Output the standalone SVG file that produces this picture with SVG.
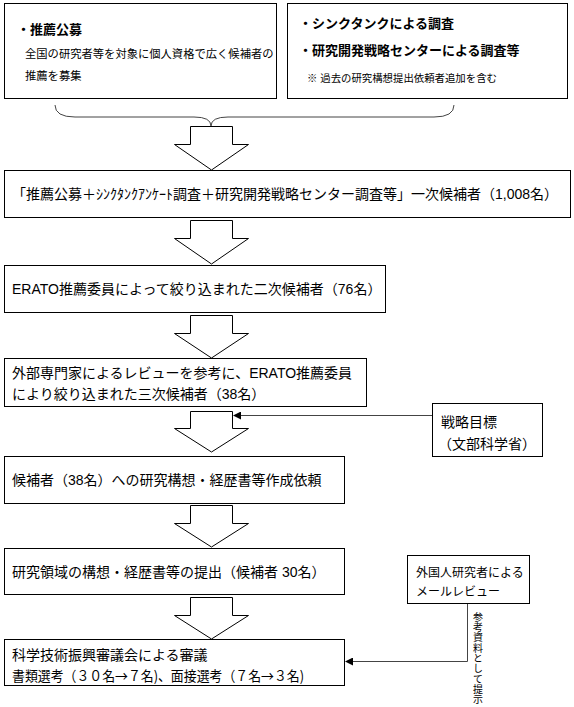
<svg xmlns="http://www.w3.org/2000/svg" width="574" height="707" viewBox="0 0 574 707">
<style>
.box{fill:#fff;stroke:#000;stroke-width:1}
.t{font-family:"Liberation Sans","Noto Sans CJK JP",sans-serif;font-size:14px;fill:#000}
.j{font-family:"Noto Sans CJK JP",sans-serif}
.s{font-size:11.3px}
.xs{font-size:10.4px}
.v{font-size:10px;writing-mode:vertical-rl;text-orientation:upright;letter-spacing:0.3px}
.m{font-size:12px}
.b{font-weight:bold;font-size:13px}
.arr{fill:#fff;stroke:#000;stroke-width:1}
.conn{fill:none;stroke:#444;stroke-width:1}
</style>
<defs>
<marker id="ah" markerWidth="8" markerHeight="8" refX="7" refY="4" orient="auto" markerUnits="userSpaceOnUse">
<path d="M0,0 L8,4 L0,8 Z" fill="#000"/>
</marker>
</defs>
<rect width="574" height="707" fill="#fff"/>

<g id="node-suisen">
<rect class="box" x="4.5" y="3.5" width="272" height="95"/>
<text class="t b" x="17" y="34">・推薦公募</text>
<text class="t s" x="25" y="58">全国の研究者等を対象に個人資格で広く候補者の</text>
<text class="t s" x="25" y="80">推薦を募集</text>
</g>

<g id="node-chousa">
<rect class="box" x="287.5" y="3.5" width="280" height="95"/>
<text class="t b" x="299" y="28">・シンクタンクによる調査</text>
<text class="t b" x="299" y="55">・研究開発戦略センターによる調査等</text>
<text class="t xs" x="307" y="82">※ 過去の研究構想提出依頼者追加を含む</text>
</g>

<g id="node-ichiji">
<rect class="box" x="4.5" y="170.5" width="566" height="47"/>
<text class="t" x="12" y="199">「推薦公募＋ｼﾝｸﾀﾝｸｱﾝｹｰﾄ調査＋研究開発戦略センター調査等」一次候補者（1,008名）</text>
</g>

<g id="node-niji">
<rect class="box" x="4.5" y="265.5" width="381" height="47"/>
<text class="t" x="12" y="294">ERATO推薦委員によって絞り込まれた二次候補者（76名）</text>
</g>

<g id="node-sanji">
<rect class="box" x="4.5" y="358.5" width="362" height="48"/>
<text class="t" x="12" y="378">外部専門家によるレビューを参考に、ERATO推薦委員</text>
<text class="t" x="12" y="399">により絞り込まれた三次候補者（38名）</text>
</g>

<g id="node-senryaku">
<rect class="box" x="432.5" y="403.5" width="110" height="53"/>
<text class="t" x="441" y="427">戦略目標</text>
<text class="t" x="438" y="449">（文部科学省）</text>
</g>

<g id="node-irai">
<rect class="box" x="4.5" y="456.5" width="340" height="47"/>
<text class="t" x="12" y="485">候補者（38名）への研究構想・経歴書等作成依頼</text>
</g>

<g id="node-teishutsu">
<rect class="box" x="4.5" y="548.5" width="340" height="46"/>
<text class="t" x="12" y="577">研究領域の構想・経歴書等の提出（候補者 30名）</text>
</g>

<g id="node-gaikoku">
<rect class="box" x="407.5" y="555.5" width="122" height="48"/>
<text class="t m" x="416" y="577">外国人研究者による</text>
<text class="t m" x="416" y="596">メールレビュー</text>
</g>

<g id="node-shingi">
<rect class="box" x="4.5" y="639.5" width="340" height="46"/>
<text class="t" x="12" y="660">科学技術振興審議会による審議</text>
<text class="t j" x="12" y="681" textLength="292" lengthAdjust="spacingAndGlyphs">書類選考（３０名→７名)、面接選考（７名→３名)</text>
</g>

<g id="connectors">
<path class="conn" d="M55,105 Q55,117 75,117 L194,117 Q211,117 211,126 Q211,117 228,117 L434,117 Q454,117 454,105"/>
<path class="arr" d="M190.5,126.5 H232.5 V144.5 H248.5 L211.5,170 L174.5,144.5 H190.5 Z"/>
<path class="arr" d="M190.5,220.5 H232.5 V238.5 H248.5 L211.5,264 L174.5,238.5 H190.5 Z"/>
<path class="arr" d="M190.5,315.5 H232.5 V333.5 H248.5 L211.5,358 L174.5,333.5 H190.5 Z"/>
<path class="arr" d="M190.5,411.5 H232.5 V428.5 H248.5 L211.5,452 L174.5,428.5 H190.5 Z"/>
<path class="arr" d="M190.5,505.5 H232.5 V523.5 H248.5 L211.5,547 L174.5,523.5 H190.5 Z"/>
<path class="arr" d="M190.5,597.5 H232.5 V615.5 H248.5 L211.5,639 L174.5,615.5 H190.5 Z"/>
<path class="conn" d="M432,415.5 H234" marker-end="url(#ah)"/>
<path class="conn" d="M467.5,604 V661.5 H346" marker-end="url(#ah)"/>
<text class="t j v" x="478" y="612">参考資料として提示</text>
</g>
</svg>
